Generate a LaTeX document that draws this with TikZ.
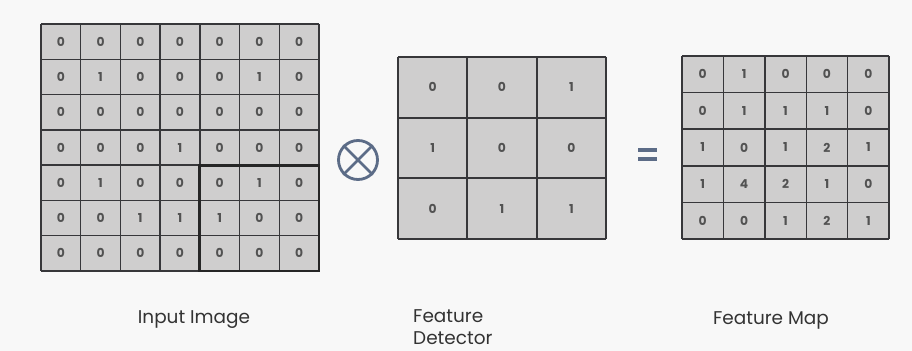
\documentclass[tikz,border=0pt]{standalone}
\usepackage{fontspec}
\setmainfont{Poppins}
\definecolor{cellgray}{RGB}{207,206,206}
\definecolor{gridline}{RGB}{55,55,58}
\definecolor{opblue}{RGB}{92,108,135}
\definecolor{paper}{RGB}{248,248,248}
\begin{document}
\begin{tikzpicture}[x=0.02cm,y=-0.02cm,
    cell/.style={font=\fontsize{7}{8}\selectfont\bfseries,text=black!68},
    caption/.style={font=\fontsize{10.5}{12.5}\selectfont,text=black!80},
    gridl/.style={draw=gridline,line width=0.8pt}]
\useasboundingbox[fill=paper] (0,0) rectangle (912,351);

% input image 7x7
\fill[cellgray] (41,24) rectangle (319,271);
\foreach \i in {0,...,7}
    {\draw[gridl] (41+\i*39.71,24) -- (41+\i*39.71,271);
    \draw[gridl] (41,24+\i*35.29) -- (319,24+\i*35.29);}
\foreach \row [count=\r] in {{0,0,0,0,0,0,0},{0,1,0,0,0,1,0},{0,0,0,0,0,0,0},
    {0,0,0,1,0,0,0},{0,1,0,0,0,1,0},{0,0,1,1,1,0,0},{0,0,0,0,0,0,0}}
    {\foreach \v [count=\c] in \row
        {\node[cell] (in-\r-\c) at (41+\c*39.71-19.86,24+\r*35.29-17.64) {\v};}}
\draw[draw=black!85,line width=1.7pt] (199.8,165.2) rectangle (319,271);

% operator
\node[circle,draw=opblue,line width=1.6pt,minimum size=0.78cm,inner sep=0pt] (otimes) at (358,160) {};
\draw[opblue,line width=1.6pt] (otimes.north west) -- (otimes.south east);
\draw[opblue,line width=1.6pt] (otimes.north east) -- (otimes.south west);

% feature detector 3x3
\fill[cellgray] (398,57) rectangle (606,239);
\foreach \i in {0,...,3}
    {\draw[gridl,line width=1pt] (398+\i*69.33,57) -- (398+\i*69.33,239);
    \draw[gridl,line width=1pt] (398,57+\i*60.67) -- (606,57+\i*60.67);}
\foreach \row [count=\r] in {{0,0,1},{1,0,0},{0,1,1}}
    {\foreach \v [count=\c] in \row
        {\node[cell] (fd-\r-\c) at (398+\c*69.33-34.67,57+\r*60.67-30.33) {\v};}}

% equals
\draw[opblue,line width=2.2pt] (638,150) -- (657,150);
\draw[opblue,line width=2.2pt] (638,159) -- (657,159);

% feature map 5x5
\fill[cellgray] (682,56) rectangle (889,239);
\foreach \i in {0,...,5}
    {\draw[gridl] (682+\i*41.4,56) -- (682+\i*41.4,239);
    \draw[gridl] (682,56+\i*36.6) -- (889,56+\i*36.6);}
\foreach \row [count=\r] in {{0,1,0,0,0},{0,1,1,1,0},{1,0,1,2,1},{1,4,2,1,0},{0,0,1,2,1}}
    {\foreach \v [count=\c] in \row
        {\node[cell] (fm-\r-\c) at (682+\c*41.4-20.7,56+\r*36.6-18.3) {\v};}}

% captions
\node[caption] (incap) at (194,320) {Input Image};
\node[caption,anchor=west,align=left] (fdcap) at (407,327) {Feature\\Detector};
\node[caption] (fmcap) at (771,320) {Feature Map};
\end{tikzpicture}
\end{document}
